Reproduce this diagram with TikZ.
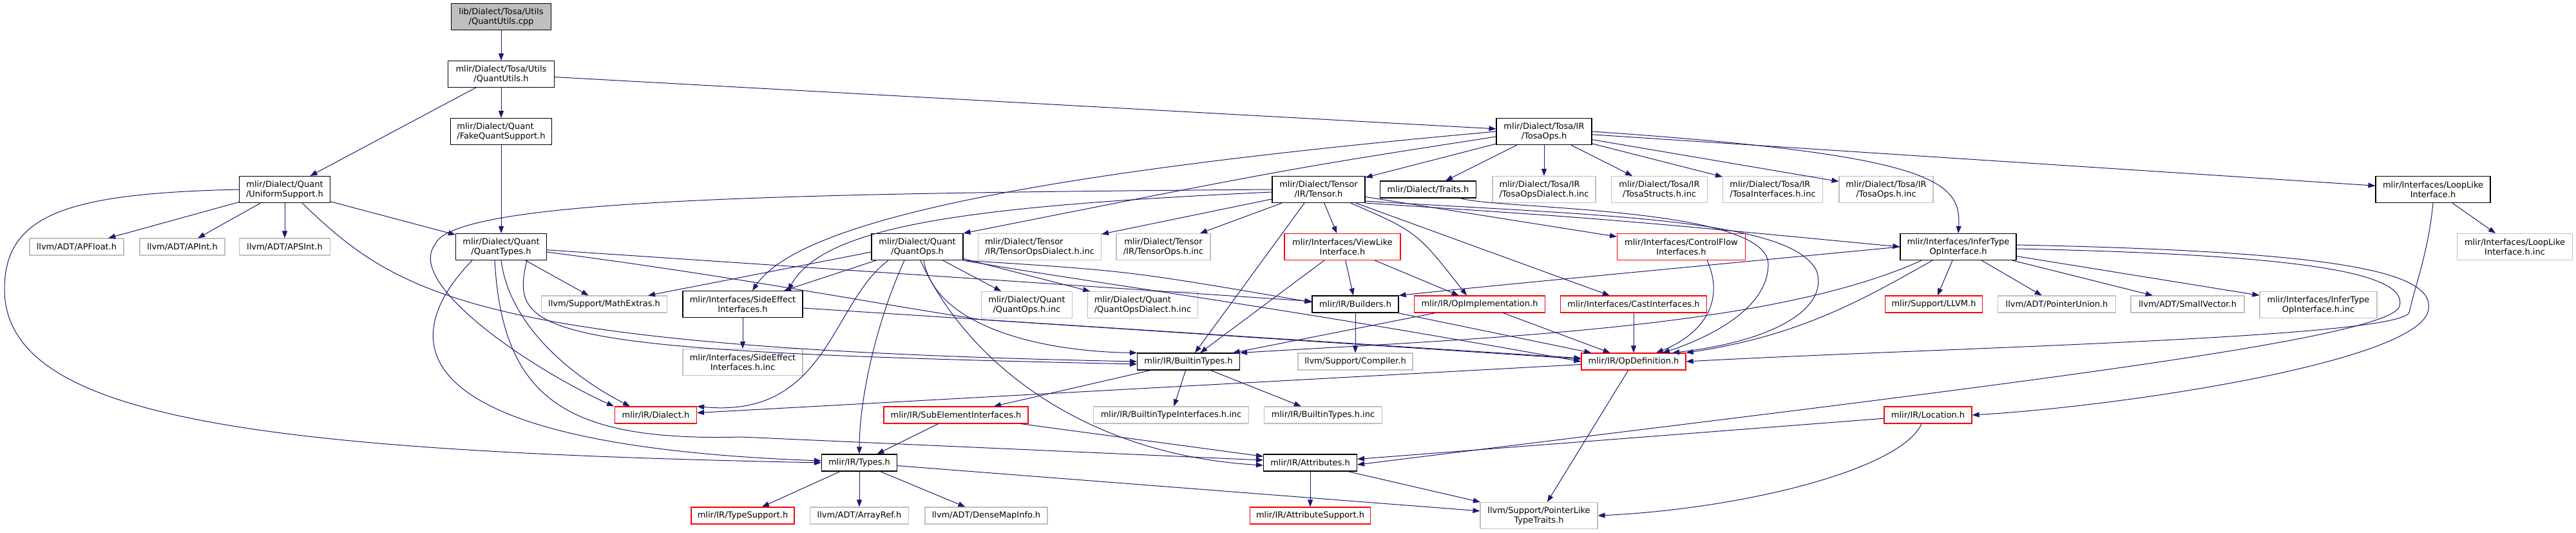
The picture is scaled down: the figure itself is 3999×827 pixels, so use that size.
\documentclass[tikz,border=0pt]{standalone}
\usepackage{fontspec}
\setmainfont{DejaVu Sans}
\usetikzlibrary{arrows.meta}
\definecolor{depblue}{HTML}{191970}
\definecolor{extgray}{HTML}{BFBFBF}
\tikzset{
  % file documentato
  filebox/.style={draw=black, line width=1.1pt, fill=white, minimum height=26pt,
    inner sep=0pt, align=center, font=\fontsize{13}{15}\selectfont},
  twoline/.style={minimum height=41pt},
  lft/.style={align=left},
  % file esterno, senza documentazione
  extbox/.style={filebox, draw=extgray},
  % grafo troncato
  truncbox/.style={filebox, draw=red},
  % file di partenza
  rootbox/.style={filebox, fill=extgray},
  % dipendenza (#include)
  dep/.style={draw=depblue, line width=1pt, -{Triangle[length=11pt,width=8pt]}},
}
\begin{document}
\begin{tikzpicture}[x=1pt,y=-1pt]
  \useasboundingbox (0,0) rectangle (3999,827);
  % livelli alti
  \node[rootbox, twoline, minimum width=155] (cpp) at (778,26) {lib/Dialect/Tosa/Utils\\/QuantUtils.cpp};
  \node[filebox, twoline, minimum width=165] (qutilsh) at (778,115) {mlir/Dialect/Tosa/Utils\\/QuantUtils.h};
  \node[filebox, twoline, lft, minimum width=157] (fakequant) at (778,204) {mlir/Dialect/Quant\\/FakeQuantSupport.h};
  \node[filebox, twoline, minimum width=148] (tosaops) at (2397,204) {mlir/Dialect/Tosa/IR\\/TosaOps.h};
  \node[filebox, twoline, minimum width=141] (uniform) at (442,294) {mlir/Dialect/Quant\\/UniformSupport.h};
  \node[filebox, twoline, minimum width=144] (tensor) at (2047,294) {mlir/Dialect/Tensor\\/IR/Tensor.h};
  \node[filebox, minimum width=149] (traits) at (2217,294) {mlir/Dialect/Traits.h};
  \node[extbox, twoline, lft, minimum width=160] (tosaopsdialectinc) at (2397,294) {mlir/Dialect/Tosa/IR\\/TosaOpsDialect.h.inc};
  \node[extbox, twoline, minimum width=149] (tosastructsinc) at (2576,294) {mlir/Dialect/Tosa/IR\\/TosaStructs.h.inc};
  \node[extbox, twoline, lft, minimum width=155] (tosainterfacesinc) at (2752,294) {mlir/Dialect/Tosa/IR\\/TosaInterfaces.h.inc};
  \node[extbox, twoline, minimum width=146] (tosaopsinc) at (2928,294) {mlir/Dialect/Tosa/IR\\/TosaOps.h.inc};
  \node[filebox, twoline, minimum width=178] (looplike) at (3777,294) {mlir/Interfaces/LoopLike\\Interface.h};
  % riga 383
  \node[extbox, minimum width=146] (apfloat) at (119,383) {llvm/ADT/APFloat.h};
  \node[extbox, minimum width=132] (apint) at (283,383) {llvm/ADT/APInt.h};
  \node[extbox, minimum width=141] (apsint) at (442,383) {llvm/ADT/APSInt.h};
  \node[filebox, twoline, minimum width=141] (quanttypes) at (778,383) {mlir/Dialect/Quant\\/QuantTypes.h};
  \node[filebox, twoline, minimum width=142] (quantops) at (1424,383) {mlir/Dialect/Quant\\/QuantOps.h};
  \node[extbox, twoline, lft, minimum width=191] (tensoropsdialectinc) at (1614,383) {mlir/Dialect/Tensor\\/IR/TensorOpsDialect.h.inc};
  \node[extbox, twoline, minimum width=146] (tensoropsinc) at (1806,383) {mlir/Dialect/Tensor\\/IR/TensorOps.h.inc};
  \node[truncbox, twoline, minimum width=180] (viewlike) at (2084,383) {mlir/Interfaces/ViewLike\\Interface.h};
  \node[truncbox, twoline, minimum width=199] (controlflow) at (2610,383) {mlir/Interfaces/ControlFlow\\Interfaces.h};
  \node[filebox, twoline, minimum width=180] (infertype) at (3040,383) {mlir/Interfaces/InferType\\OpInterface.h};
  \node[extbox, twoline, minimum width=179] (looplikeinc) at (3904,383) {mlir/Interfaces/LoopLike\\Interface.h.inc};
  % riga 472
  \node[extbox, minimum width=195] (mathextras) at (938,472) {llvm/Support/MathExtras.h};
  \node[filebox, twoline, minimum width=186] (sideeffect) at (1153,472) {mlir/Interfaces/SideEffect\\Interfaces.h};
  \node[extbox, twoline, minimum width=141] (quantopsinc) at (1594,473) {mlir/Dialect/Quant\\/QuantOps.h.inc};
  \node[extbox, twoline, lft, minimum width=171] (quantopsdialectinc) at (1774,473) {mlir/Dialect/Quant\\/QuantOpsDialect.h.inc};
  \node[filebox, minimum width=134] (builders) at (2104,472) {mlir/IR/Builders.h};
  \node[truncbox, minimum width=203] (opimpl) at (2297,472) {mlir/IR/OpImplementation.h};
  \node[truncbox, minimum width=227] (castif) at (2536,472) {mlir/Interfaces/CastInterfaces.h};
  \node[truncbox, minimum width=151] (llvmh) at (3002,472) {mlir/Support/LLVM.h};
  \node[extbox, minimum width=183] (ptrunion) at (3193,472) {llvm/ADT/PointerUnion.h};
  \node[extbox, minimum width=176] (smallvec) at (3396,472) {llvm/ADT/SmallVector.h};
  \node[extbox, twoline, minimum width=182] (infertypeinc) at (3599,473) {mlir/Interfaces/InferType\\OpInterface.h.inc};
  % riga 561
  \node[extbox, twoline, minimum width=186] (sideeffectinc) at (1153,562) {mlir/Interfaces/SideEffect\\Interfaces.h.inc};
  \node[filebox, minimum width=159] (builtintypes) at (1845,561) {mlir/IR/BuiltinTypes.h};
  \node[extbox, minimum width=178] (compiler) at (2104,561) {llvm/Support/Compiler.h};
  \node[truncbox, minimum width=162] (opdef) at (2536,561) {mlir/IR/OpDefinition.h};
  % riga 644
  \node[truncbox, minimum width=127] (dialect) at (1018,644) {mlir/IR/Dialect.h};
  \node[truncbox, minimum width=224] (subelement) at (1484,644) {mlir/IR/SubElementInterfaces.h};
  \node[extbox, minimum width=241] (builtintypeifinc) at (1818,644) {mlir/IR/BuiltinTypeInterfaces.h.inc};
  \node[extbox, minimum width=183] (builtintypesinc) at (2054,644) {mlir/IR/BuiltinTypes.h.inc};
  \node[truncbox, minimum width=136] (location) at (2993,644) {mlir/IR/Location.h};
  % riga 718
  \node[filebox, minimum width=117] (types) at (1334,718) {mlir/IR/Types.h};
  \node[filebox, minimum width=145] (attributes) at (2034,718) {mlir/IR/Attributes.h};
  % riga 800
  \node[truncbox, minimum width=160] (typesupport) at (1153,800) {mlir/IR/TypeSupport.h};
  \node[extbox, minimum width=153] (arrayref) at (1334,800) {llvm/ADT/ArrayRef.h};
  \node[extbox, minimum width=190] (densemapinfo) at (1531,800) {llvm/ADT/DenseMapInfo.h};
  \node[truncbox, minimum width=187] (attrsupport) at (2034,800) {mlir/IR/AttributeSupport.h};
  \node[extbox, twoline, minimum width=182] (ptrlike) at (2389,800) {llvm/Support/PointerLike\\TypeTraits.h};

  % dipendenze dirette
  \foreach \a/\b in {cpp/qutilsh, qutilsh/fakequant, qutilsh/uniform, qutilsh/tosaops,
      fakequant/quanttypes, uniform/apfloat, uniform/apint, uniform/apsint, uniform/quanttypes,
      quanttypes/mathextras, quanttypes/builders, quantops/sideeffect, quantops/quantopsinc,
      quantops/quantopsdialectinc, sideeffect/sideeffectinc, sideeffect/opdef,
      tosaops/tensor, tosaops/traits, tosaops/tosaopsdialectinc, tosaops/tosastructsinc,
      tosaops/tosainterfacesinc, tosaops/tosaopsinc, tosaops/looplike,
      tensor/tensoropsdialectinc, tensor/tensoropsinc, tensor/viewlike, tensor/castif,
      tensor/controlflow, viewlike/builtintypes, viewlike/builders, viewlike/opimpl,
      castif/opdef, opimpl/builtintypes, opimpl/opdef, builders/compiler, builders/opdef,
      infertype/llvmh, infertype/ptrunion, infertype/smallvec, infertype/infertypeinc,
      looplike/looplikeinc, builtintypes/subelement, builtintypes/builtintypeifinc,
      builtintypes/builtintypesinc, subelement/types, subelement/attributes,
      opdef/dialect, opdef/ptrlike, location/attributes, types/typesupport, types/arrayref,
      types/densemapinfo, types/ptrlike, attributes/attrsupport, attributes/ptrlike}
    \draw[dep] (\a) -- (\b);
  \draw[dep] ([yshift=-8]quantops.west) -- ([xshift=-30]mathextras.north east);
  \draw[dep] ([xshift=-22]tensor.south) -- ([xshift=10]builtintypes.north);

  % dipendenze curve
  \draw[dep] (uniform.west) .. controls (110,300) and (6,330) .. (7,450)
    .. controls (9,650) and (400,700) .. (types.west);
  \draw[dep] ([xshift=27]uniform.south) .. controls (620,460) and (740,540) .. (builtintypes.west);
  \draw[dep] ([xshift=40]quanttypes.south) .. controls (790,520) and (830,545) .. ([yshift=-4]builtintypes.west);
  \draw[dep] ([xshift=-45]quanttypes.south) .. controls (620,520) and (600,690) .. ([yshift=3]types.west);
  \draw[dep] (quanttypes.south) .. controls (790,500) and (880,580) .. ([xshift=-40]dialect.north);
  \draw[dep] ([xshift=-10]quanttypes.south) .. controls (780,620) and (880,685) .. (1150,678)
    -- ([yshift=4]attributes.west);
  \draw[dep] ([yshift=-8]quanttypes.east) .. controls (1150,430) and (1350,470) .. (1524,496)
    -- ([yshift=4]opdef.west);
  \draw[dep] (quantops.south east) .. controls (1700,440) and (1950,470) .. (opdef.west);
  \draw[dep] (quantops.south east) .. controls (1750,420) .. ([yshift=3]builders.west);
  \draw[dep] ([xshift=10]quantops.south) .. controls (1450,500) and (1600,545) .. (builtintypes.north west);
  \draw[dep] ([xshift=-20]quantops.south) .. controls (1360,500) and (1334,620) .. (types.north);
  \draw[dep] ([xshift=-45]quantops.south) .. controls (1290,470) and (1285,650) .. (dialect.north east);
  \draw[dep] ([xshift=5]quantops.south) .. controls (1500,560) and (1680,705) .. ([yshift=-4]attributes.west);
  \draw[dep] (tensor.west) .. controls (1200,300) and (700,310) .. (675,380)
    .. controls (630,440) and (820,570) .. ([xshift=-65]dialect.north);
  \draw[dep] ([yshift=-4]tensor.west) .. controls (1500,320) and (1280,350) .. ([xshift=70]sideeffect.north);
  \draw[dep] (tosaops.west) .. controls (1700,260) and (1250,330) .. ([xshift=15]sideeffect.north);
  \draw[dep] ([yshift=-8]tosaops.west) .. controls (2000,262) .. (quantops.north east);
  \draw[dep] (tosaops.east) .. controls (3000,240) and (3045,280) .. (infertype.north);
  \draw[dep] (tensor.south east) .. controls (2500,340) .. (infertype.west);
  \draw[dep] ([xshift=50]tensor.south) .. controls (2200,360) .. ([xshift=-20]opimpl.north);
  \draw[dep] ([yshift=3]tensor.south east) .. controls (2500,335) and (2780,340) .. (2820,420)
    .. controls (2840,480) and (2750,530) .. ([xshift=60]opdef.north);
  \draw[dep] ([xshift=50]traits.south) .. controls (2320,325) and (2745,320) .. (2745,410)
    .. controls (2745,480) and (2650,525) .. ([xshift=45]opdef.north);
  \draw[dep] ([xshift=40]controlflow.south) .. controls (2680,470) and (2640,520) .. ([xshift=35]opdef.north);
  \draw[dep] (infertype.west) .. controls (2300,445) .. (builders.north east);
  \draw[dep] ([xshift=-57]infertype.south) .. controls (2750,510) and (2300,525) .. (builtintypes.north east);
  \draw[dep] ([xshift=-40]infertype.south) .. controls (2900,460) and (2800,520) .. (opdef.north east);
  \draw[dep] ([yshift=-3]infertype.east) .. controls (3550,395) and (3740,420) .. (3725,475)
    .. controls (3710,530) and (3000,610) .. ([yshift=-3]attributes.east);
  \draw[dep] ([yshift=3]infertype.east) .. controls (3620,390) and (3780,420) .. (3770,480)
    .. controls (3760,560) and (3300,630) .. (location.east);
  \draw[dep] (looplike.south) .. controls (3770,390) and (3750,440) .. (3740,485)
    .. controls (3720,525) and (3000,540) .. (opdef.east);
  \draw[dep] ([xshift=-10]location.south) .. controls (2950,730) and (2700,790) .. (ptrlike.east);
\end{tikzpicture}
\end{document}
